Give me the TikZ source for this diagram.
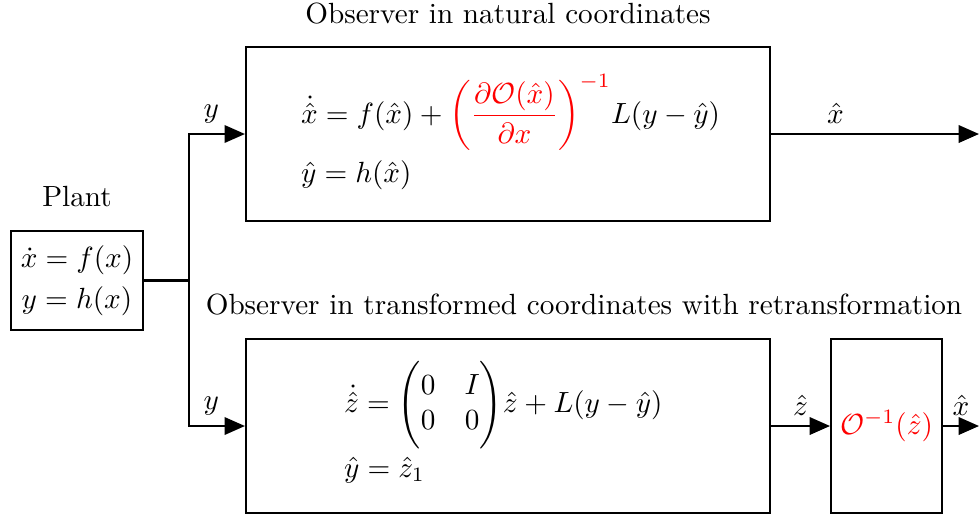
\documentclass[tikz,border=0pt]{standalone}
\usepackage{amsmath}
\usepackage{xcolor}
\usetikzlibrary{arrows.meta}
\begin{document}
\begin{tikzpicture}[x=0.3425pt,y=-0.3425pt, line width=0.7pt,
  box/.style={draw, inner sep=0pt},
  arr/.style={-{Triangle[length=7pt,width=6pt]}},
  eq/.style={inner sep=0pt, anchor=base west},
  lab/.style={inner sep=0pt}]
\useasboundingbox (0,0) rectangle (979,514);
% boxes
\node[box, minimum width=45.2pt, minimum height=33.9pt, align=center] (plant) at (77,280.5)
  {$\dot{x} = f(x)$\\[2pt] $y = h(x)$};
\node[box, minimum width=179.5pt, minimum height=59.6pt] (top) at (508,134) {};
\node[box, minimum width=179.5pt, minimum height=59.6pt] (bot) at (508,426) {};
\node[box, minimum width=38pt, minimum height=59.6pt] (inv) at (886.5,426)
  {\textcolor{red}{$\mathcal{O}^{-1}(\hat{z})$}};
% titles
\node[lab] (tplant) at (77,197) {Plant};
\node[lab] (ttop) at (508,14) {Observer in natural coordinates};
\node[lab] (tbot) at (584,305) {Observer in transformed coordinates with retransformation};
% equations
\node[eq] (e1) at (300,123) {$\dot{\hat{x}} = f(\hat{x}) + \textcolor{red}{\left(\dfrac{\partial \mathcal{O}(\hat{x})}{\partial x}\right)^{-1}} L(y-\hat{y})$};
\node[eq] (e2) at (300,182) {$\hat{y} = h(\hat{x})$};
\node[eq] (e3) at (343,412) {$\dot{\hat{z}} = \Biggl(\begin{matrix}0 & I\\ 0 & 0\end{matrix}\Biggr)\hat{z} + L(y-\hat{y})$};
\node[eq] (e4) at (343,477) {$\hat{y} = \hat{z}_1$};
% connectors
\coordinate (j) at (189,280.5);
\coordinate (outT) at (979,134);
\coordinate (outB) at (979,426);
\draw (plant.east) -- (j);
\draw[arr] (j) |- node[above, pos=0.7] {$y$} (top.west);
\draw[arr] (j) |- node[above, pos=0.7] {$y$} (bot.west);
\draw[arr] (top.east) -- node[above, pos=0.31] {$\hat{x}$} (outT);
\draw[arr] (bot.east) -- node[above] {$\hat{z}$} (inv.west);
\draw[arr] (inv.east) -- node[above] {$\hat{x}$} (outB);
\end{tikzpicture}
\end{document}
